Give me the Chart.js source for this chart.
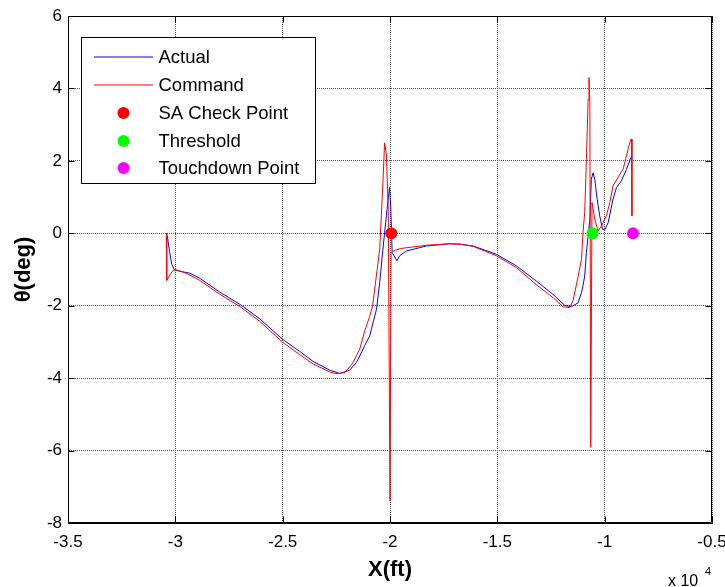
<!DOCTYPE html>
<html><head><meta charset="utf-8">
<script src="https://cdn.jsdelivr.net/npm/chart.js@4/dist/chart.umd.min.js"></script>
<style>html,body{margin:0;padding:0;background:#fff}canvas{display:block}</style>
</head><body>
<canvas id="c" width="725" height="587"></canvas>
<script>
// ---- data (x in ft, y in deg) ----
const actualX = [-30420,-30370,-30270,-30170,-30050,-29800,-29330,-28870,-27940,-27000,-26070,-25000,-24210,-23600,-22810,-22340,-21880,-21570,-21410,-21180,-20950,-20630,-20480,-20330,-20170,-20020,-19970,-19900,-19680,-19550,-19240,-18300,-17220,-16750,-16130,-15040,-14110,-13180,-12400,-11860,-11550,-11240,-11080,-11010,-10930,-10850,-10690,-10620,-10540,-10460,-10350,-10230,-10100,-10000,-9840,-9610,-9450,-9220,-8980,-8780];
const actualY = [0,-0.1,-0.5,-0.85,-1.0,-1.05,-1.10,-1.24,-1.62,-1.96,-2.36,-2.93,-3.26,-3.53,-3.78,-3.87,-3.78,-3.57,-3.39,-3.1,-2.84,-2.1,-1.36,-0.44,0.48,1.27,0.8,-0.53,-0.76,-0.62,-0.49,-0.35,-0.29,-0.30,-0.35,-0.58,-0.90,-1.32,-1.69,-1.99,-2.03,-1.92,-1.64,-1.45,-1.18,-0.53,0.39,1.49,1.67,1.49,0.94,0.48,0.11,0.09,0.29,0.94,1.26,1.45,1.77,2.09];
const commandX = [-30420,-30400,-30250,-30100,-29950,-29500,-28870,-27940,-27000,-26070,-25000,-24210,-23600,-22810,-22450,-22100,-21750,-21410,-21180,-20950,-20810,-20480,-20330,-20250,-20170,-20080,-20000,-19950,-19880,-19750,-19500,-18300,-17220,-16750,-16130,-15040,-14110,-13180,-12400,-11930,-11630,-11470,-11240,-11080,-11010,-10930,-10850,-10770,-10730,-10690,-10650,-10590,-10460,-10310,-10150,-9920,-9760,-9610,-9380,-9140,-8910,-8780,-8740,-8730];
const commandY = [0,-1.30,-1.15,-1.02,-1.01,-1.10,-1.30,-1.68,-2.02,-2.43,-3.01,-3.35,-3.60,-3.83,-3.88,-3.84,-3.60,-3.20,-2.70,-2.30,-2.00,-0.44,1.40,2.50,2.20,0.60,-7.39,-0.55,-0.50,-0.47,-0.42,-0.33,-0.29,-0.30,-0.36,-0.62,-0.95,-1.42,-1.78,-2.03,-2.05,-1.85,-1.20,-0.72,0.02,0.57,2.04,3.70,4.30,3.61,-5.91,0.85,0.39,0.06,0.20,0.48,0.85,1.31,1.54,1.77,2.32,2.60,2.60,0.48];
const saCheckX = [-19940], saCheckY = [0];
const thresholdX = [-10570], thresholdY = [0];
const touchdownX = [-8680], touchdownY = [0];
const xTicks = [-35000,-30000,-25000,-20000,-15000,-10000,-5000];
const yTicks = [-8,-6,-4,-2,0,2,4,6];
const seriesNames = ['Actual','Command','SA Check Point','Threshold','Touchdown Point'];
const seriesColors = ['#0000ff','#ff0000','#ff0000','#00ff00','#ff00ff'];
const seriesIsLine = [true, true, false, false, false];

const FONT = "'Liberation Sans', Arial, Helvetica, sans-serif";
const pts = (xs, ys) => xs.map((v, i) => ({x: v, y: ys[i]}));

const chromePlugin = {
  id: 'chrome',
  afterDraw(chart) {
    const {ctx, chartArea: a, scales: {x, y}} = chart;
    const TL = 6;
    ctx.save();
    ctx.setLineDash([]);
    ctx.strokeStyle = '#000';
    ctx.lineWidth = 1;
    const L = Math.round(a.left) + 0.5, R = Math.round(a.right) - 0.5;
    const T = Math.round(a.top) + 0.5, B = Math.round(a.bottom) - 0.5;
    ctx.beginPath();
    ctx.rect(L, T, R - L, B - T);
    xTicks.forEach(v => {
      const p = Math.round(x.getPixelForValue(v)) + 0.5;
      ctx.moveTo(p, B); ctx.lineTo(p, B - TL);
      ctx.moveTo(p, T); ctx.lineTo(p, T + TL);
    });
    yTicks.forEach(v => {
      const p = Math.round(y.getPixelForValue(v)) + 0.5;
      ctx.moveTo(L, p); ctx.lineTo(L + TL, p);
      ctx.moveTo(R, p); ctx.lineTo(R - TL, p);
    });
    ctx.stroke();

    // exponent label
    ctx.fillStyle = '#000';
    ctx.textBaseline = 'alphabetic';
    ctx.textAlign = 'left';
    ctx.font = '16px ' + FONT;
    ctx.fillText('x 10', 668, 586);
    ctx.font = '11px ' + FONT;
    ctx.fillText('4', 705, 575);

    // legend box
    const lx = L + 13, ly = T + 21, lw = 234, lh = 146;
    ctx.fillStyle = '#fff';
    ctx.fillRect(lx, ly, lw, lh);
    ctx.strokeStyle = '#000';
    ctx.strokeRect(lx, ly, lw, lh);
    const rowsY = [19, 47, 75, 103, 130];
    ctx.font = '18.5px ' + FONT;
    ctx.textBaseline = 'middle';
    seriesNames.forEach((name, i) => {
      const ry = Math.round(ly + rowsY[i]);
      const col = seriesColors[i];
      if (seriesIsLine[i]) {
        ctx.strokeStyle = col;
        ctx.lineWidth = 1.2;
        ctx.beginPath();
        ctx.moveTo(Math.round(lx + 12), ry);
        ctx.lineTo(Math.round(lx + 71), ry);
        ctx.stroke();
      } else {
        ctx.fillStyle = col;
        ctx.beginPath();
        ctx.arc(lx + 42, ry, 6, 0, Math.PI * 2);
        ctx.fill();
      }
      ctx.fillStyle = '#000';
      ctx.fillText(name, lx + 77, ry + 1);
    });
    ctx.restore();
  }
};

const lineDs = (i, xs, ys, order) => ({
  label: seriesNames[i], data: pts(xs, ys), borderColor: seriesColors[i], backgroundColor: seriesColors[i],
  borderWidth: 1, pointRadius: 0, tension: 0, showLine: true, order
});
const dotDs = (i, xs, ys) => ({
  label: seriesNames[i], data: pts(xs, ys), showLine: false, borderColor: seriesColors[i], backgroundColor: seriesColors[i],
  pointRadius: 6, pointBorderWidth: 0, order: 0
});

new Chart(document.getElementById('c'), {
  type: 'scatter',
  data: {
    datasets: [
      lineDs(0, actualX, actualY, 2),
      lineDs(1, commandX, commandY, 1),
      dotDs(2, saCheckX, saCheckY),
      dotDs(3, thresholdX, thresholdY),
      dotDs(4, touchdownX, touchdownY)
    ]
  },
  options: {
    responsive: false,
    devicePixelRatio: 1,
    animation: false,
    events: [],
    layout: {padding: {left: 0, right: 13, top: 16, bottom: 0}},
    plugins: {legend: {display: false}, tooltip: {enabled: false}, title: {display: false}},
    scales: {
      x: {
        type: 'linear', position: 'bottom', min: -35000, max: -5000,
        afterBuildTicks: s => { s.ticks = xTicks.map(v => ({value: v})); },
        afterFit: s => { s.height = 64; s.paddingLeft = 0; s.paddingRight = 0; },
        ticks: {color: '#000', font: {family: FONT, size: 17}, padding: 9, maxRotation: 0, autoSkip: false,
                callback: v => String(v / 10000)},
        grid: {color: '#555', drawTicks: false, lineWidth: 1},
        border: {display: true, color: '#000', width: 1, dash: [1, 1]},
        title: {display: true, text: 'X(ft)', color: '#000', font: {family: FONT, size: 22, weight: 'bold'},
                padding: {top: 0, bottom: 4}}
      },
      y: {
        type: 'linear', position: 'left', min: -8, max: 6,
        afterBuildTicks: s => { s.ticks = yTicks.map(v => ({value: v})); },
        afterFit: s => { s.width = 68; s.paddingTop = 0; s.paddingBottom = 0; },
        ticks: {color: '#000', font: {family: FONT, size: 17}, padding: 6, autoSkip: false,
                callback: v => String(v)},
        grid: {color: '#555', drawTicks: false, lineWidth: 1},
        border: {display: true, color: '#000', width: 1, dash: [1, 1]},
        title: {display: true, text: 'θ(deg)', color: '#000', font: {family: FONT, size: 22, weight: 'bold'},
                padding: {top: 11, bottom: 0}}
      }
    }
  },
  plugins: [chromePlugin]
});
</script>
</body></html>
